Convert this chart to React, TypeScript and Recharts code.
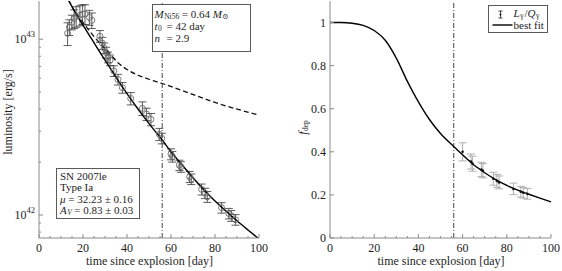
import React from "react";
import { ComposedChart, Line, Scatter, ErrorBar, XAxis, YAxis, ReferenceLine } from "recharts";

const FONT = '"Liberation Serif", "DejaVu Serif", serif';
const FRAME = "#8a8a8a";
const INK = "#1e1e1e";
const E42 = 1e42;

// observed bolometric light curve, units of 1e42 erg/s
const obsDay = [13.0, 13.8, 14.9, 16.0, 16.9, 18.6, 19.8, 20.9, 22.9, 24.0, 27.7, 28.8, 29.6, 30.5, 31.4, 32.3, 34.0, 35.9, 37.9, 41.7, 47.0, 48.9, 50.9, 54.7, 55.8, 60.0, 60.6, 63.8, 64.5, 68.5, 69.2, 73.9, 75.5, 76.5, 83.0, 86.3, 87.4, 89.3];
const obsLum = [10.8, 11.7, 12.5, 13.1, 13.5, 13.7, 13.9, 13.9, 13.3, 12.8, 10.4, 9.5, 8.9, 8.4, 7.9, 7.6, 6.6, 5.9, 5.3, 4.6, 4.04, 3.75, 3.5, 2.88, 2.73, 2.22, 2.15, 1.92, 1.88, 1.65, 1.6, 1.4, 1.33, 1.27, 1.1, 1.02, 0.99, 0.94];
const obsErr = [1.6, 1.2, 1.2, 1.6, 1.8, 1.8, 1.8, 1.8, 1.3, 1.3, 0.8, 0.75, 0.62, 0.6, 0.55, 0.53, 0.46, 0.41, 0.37, 0.37, 0.36, 0.3, 0.28, 0.23, 0.19, 0.16, 0.15, 0.13, 0.13, 0.12, 0.11, 0.1, 0.09, 0.09, 0.075, 0.07, 0.07, 0.065];

// best-fit luminosity and total decay power Q, units of 1e42 erg/s
const fitDay = [13.3, 16, 20, 24, 28, 32, 36, 40, 44, 48, 52, 56, 60, 65, 70, 75, 80, 85, 90, 95, 100];
const fitLum = [16.79, 14.55, 12.02, 10.0, 8.32, 6.97, 5.82, 4.9, 4.17, 3.57, 3.08, 2.67, 2.29, 1.93, 1.63, 1.387, 1.202, 1.052, 0.927, 0.822, 0.731];
const qDay = [13.3, 16, 20, 24, 28, 32, 36, 40, 45, 50, 56, 65, 80, 100];
const qLum = [16.79, 14.62, 12.45, 10.72, 9.38, 8.32, 7.33, 6.73, 6.24, 5.92, 5.6, 5.11, 4.37, 3.7];

// gamma-ray deposition fraction
const depDay = [60.0, 63.8, 64.5, 68.5, 69.2, 73.9, 75.5, 76.5, 83.0, 86.3, 87.4, 89.3];
const depVal = [0.4, 0.355, 0.345, 0.318, 0.312, 0.275, 0.265, 0.258, 0.228, 0.215, 0.21, 0.205];
const depErr = [0.042, 0.035, 0.035, 0.033, 0.033, 0.03, 0.03, 0.03, 0.027, 0.025, 0.025, 0.025];
const fDay = [0, 5, 10, 15, 20, 25, 30, 35, 40, 45, 50, 56, 60, 65, 70, 75, 80, 85, 90, 95, 100];
const fVal = [1.0, 1.0, 0.997, 0.987, 0.963, 0.918, 0.835, 0.727, 0.632, 0.55, 0.485, 0.425, 0.386, 0.34, 0.303, 0.271, 0.244, 0.222, 0.203, 0.185, 0.168];

const tSplit = 56;

const dayTicks = [0, 5, 10, 15, 20, 25, 30, 35, 40, 45, 50, 55, 60, 65, 70, 75, 80, 85, 90, 95, 100];
const dayLabels = [0, 20, 40, 60, 80, 100];
const lumTicks = [0.8, 0.9, 1, 2, 3, 4, 5, 6, 7, 8, 9, 10];
const lumLabels = [1, 10];
const fTicks = [0, 0.2, 0.4, 0.6, 0.8, 1];

const obsData = obsDay.map((x, i) => ({ x, y: obsLum[i] * E42, err: obsErr[i] * E42 }));
const fitData = fitDay.map((x, i) => ({ x, y: fitLum[i] * E42 }));
const qData = qDay.map((x, i) => ({ x, y: qLum[i] * E42 }));
const depData = depDay.map((x, i) => ({ x, y: depVal[i], err: depErr[i] }));
const fData = fDay.map((x, i) => ({ x, y: fVal[i] }));

// MATLAB-style inward ticks; axes use tickSize 0 so x/y sit on the axis line
function InTick(props: any) {
  const { x, y, payload, side, major, label } = props;
  const len = major ? 4 : 2;
  let line;
  let text = null;
  if (side === "bottom") {
    line = <line x1={x} x2={x} y1={y} y2={y - len} stroke={FRAME} />;
    if (label != null)
      text = (
        <text x={x} y={y + 14} textAnchor="middle" fontSize={12} fill={INK} fontFamily={FONT}>
          {label}
        </text>
      );
  } else if (side === "top") {
    line = <line x1={x} x2={x} y1={y} y2={y + len} stroke={FRAME} />;
  } else if (side === "left") {
    line = <line x1={x} x2={x + len} y1={y} y2={y} stroke={FRAME} />;
    if (label != null)
      text = (
        <text x={x - 4} y={y + 4} textAnchor="end" fontSize={12} fill={INK} fontFamily={FONT}>
          {label}
        </text>
      );
  } else {
    line = <line x1={x} x2={x - len} y1={y} y2={y} stroke={FRAME} />;
  }
  return (
    <g key={payload.value}>
      {line}
      {text}
    </g>
  );
}

const isDayMajor = (v: number) => dayLabels.includes(v);
const isLumMajor = (v: number) => lumLabels.some((m) => Math.abs(v - m * E42) < 1e30);

const logLabel = (v: number) => (
  <>
    <tspan>10</tspan>
    <tspan dy={-6} fontSize={8.5}>
      {Math.round(Math.log10(v))}
    </tspan>
  </>
);

const W = 281;
const H = 271;

function LightCurve() {
  return (
    <ComposedChart width={W} height={H} margin={{ top: 1, right: 22, bottom: 0, left: 0 }}>
      <XAxis
        xAxisId="b"
        dataKey="x"
        type="number"
        domain={[0, 100]}
        ticks={dayTicks}
        interval={0}
        height={33}
        tickSize={0}
        tickMargin={0}
        stroke={FRAME}
        tick={(p: any) => <InTick {...p} side="bottom" major={isDayMajor(p.payload.value)} label={isDayMajor(p.payload.value) ? p.payload.value : null} />}
      />
      <XAxis xAxisId="t" orientation="top" dataKey="x" type="number" domain={[0, 100]} ticks={dayTicks} interval={0} height={0} tickSize={0} tickMargin={0} stroke={FRAME}
        tick={(p: any) => <InTick {...p} side="top" major={isDayMajor(p.payload.value)} />}
      />
      <YAxis
        yAxisId="l"
        type="number"
        scale="log"
        domain={[7.4e41, 1.65e43]}
        allowDataOverflow
        ticks={lumTicks.map((v) => v * E42)}
        interval={0}
        width={39}
        tickSize={0}
        tickMargin={0}
        stroke={FRAME}
        tick={(p: any) => <InTick {...p} side="left" major={isLumMajor(p.payload.value)} label={isLumMajor(p.payload.value) ? logLabel(p.payload.value) : null} />}
      />
      <YAxis yAxisId="r" orientation="right" type="number" scale="log" domain={[7.4e41, 1.65e43]} allowDataOverflow ticks={lumTicks.map((v) => v * E42)} interval={0} width={0} tickSize={0} tickMargin={0} stroke={FRAME}
        tick={(p: any) => <InTick {...p} side="right" major={isLumMajor(p.payload.value)} />}
      />
      <ReferenceLine xAxisId="b" yAxisId="l" x={tSplit} stroke="#444" strokeWidth={1} strokeDasharray="5 2 1 2" />
      <Line xAxisId="b" yAxisId="l" data={qData} dataKey="y" type="monotone" stroke="#111" strokeWidth={1.3} strokeDasharray="5 3" dot={false} isAnimationActive={false} />
      <Scatter
        xAxisId="b"
        yAxisId="l"
        data={obsData}
        dataKey="y"
        isAnimationActive={false}
        shape={(p: any) => <circle cx={p.cx} cy={p.cy} r={3} fill="none" stroke="#6a6a6a" strokeWidth={0.9} />}
      >
        <ErrorBar dataKey="err" direction="y" width={4} stroke="#333" strokeWidth={0.8} isAnimationActive={false} />
      </Scatter>
      <Line xAxisId="b" yAxisId="l" data={fitData} dataKey="y" type="monotone" stroke="#000" strokeWidth={1.4} dot={false} isAnimationActive={false} />
    </ComposedChart>
  );
}

function Deposition() {
  return (
    <ComposedChart width={W} height={H} margin={{ top: 1, right: 11, bottom: 0, left: 0 }}>
      <XAxis
        xAxisId="b"
        dataKey="x"
        type="number"
        domain={[0, 100]}
        ticks={dayTicks}
        interval={0}
        height={33}
        tickSize={0}
        tickMargin={0}
        stroke={FRAME}
        tick={(p: any) => <InTick {...p} side="bottom" major={isDayMajor(p.payload.value)} label={isDayMajor(p.payload.value) ? p.payload.value : null} />}
      />
      <XAxis xAxisId="t" orientation="top" dataKey="x" type="number" domain={[0, 100]} ticks={dayTicks} interval={0} height={0} tickSize={0} tickMargin={0} stroke={FRAME}
        tick={(p: any) => <InTick {...p} side="top" major={isDayMajor(p.payload.value)} />}
      />
      <YAxis
        yAxisId="l"
        type="number"
        domain={[0, 1.1]}
        ticks={fTicks}
        interval={0}
        width={49}
        tickSize={0}
        tickMargin={0}
        stroke={FRAME}
        tick={(p: any) => <InTick {...p} side="left" major label={String(p.payload.value)} />}
      />
      <YAxis yAxisId="r" orientation="right" type="number" domain={[0, 1.1]} ticks={fTicks} interval={0} width={0} tickSize={0} tickMargin={0} stroke={FRAME}
        tick={(p: any) => <InTick {...p} side="right" major />}
      />
      <ReferenceLine xAxisId="b" yAxisId="l" x={tSplit} stroke="#444" strokeWidth={1} strokeDasharray="5 2 1 2" />
      <Scatter
        xAxisId="b"
        yAxisId="l"
        data={depData}
        dataKey="y"
        isAnimationActive={false}
        shape={(p: any) => <circle cx={p.cx} cy={p.cy} r={1.3} fill="#111" />}
      >
        <ErrorBar dataKey="err" direction="y" width={4} stroke="#a8a8a8" strokeWidth={0.9} isAnimationActive={false} />
      </Scatter>
      <Line xAxisId="b" yAxisId="l" data={fData} dataKey="y" type="monotone" stroke="#000" strokeWidth={1.4} dot={false} isAnimationActive={false} />
    </ComposedChart>
  );
}

const sub: React.CSSProperties = { fontSize: 7.5, verticalAlign: "-1px", lineHeight: 0, marginLeft: 0.5, marginRight: 1 };
const box: React.CSSProperties = {
  position: "absolute",
  boxSizing: "border-box",
  border: "1px solid #5a5a5a",
  background: "#fff",
  fontFamily: FONT,
  fontSize: 11,
  lineHeight: "11.6px",
  color: INK,
  whiteSpace: "nowrap",
};

function vLabel(x: number, y: number, content: React.ReactNode): React.ReactNode {
  return (
    <div
      style={{
        position: "absolute",
        left: x,
        top: y,
        transform: "translate(-50%, -50%) rotate(-90deg)",
        fontFamily: FONT,
        fontSize: 12,
        color: INK,
        whiteSpace: "nowrap",
        lineHeight: "14px",
      }}
    >
      {content}
    </div>
  );
}

function xLabel(cx: number) {
  return (
    <div style={{ position: "absolute", left: cx, top: 255, transform: "translateX(-50%)", fontFamily: FONT, fontSize: 12, lineHeight: "13px", color: INK, whiteSpace: "nowrap" }}>
      time since explosion [day]
    </div>
  );
}

export default function App() {
  return (
    <div style={{ position: "absolute", left: 0, top: 0, width: 562, height: 271, background: "#fff" }}>
      <div style={{ position: "absolute", left: 0, top: 0 }}>
        <LightCurve />
      </div>
      <div style={{ position: "absolute", left: 281, top: 0 }}>
        <Deposition />
      </div>

      {xLabel(149.5)}
      {xLabel(441)}
      {vLabel(7.5, 112, "luminosity [erg/s]")}
      {vLabel(303, 127, <span><i>f</i><span style={sub}>dep</span></span>)}

      <div style={{ ...box, left: 151.5, top: 4, width: 99.5, height: 48, padding: "3px 0 0 2px", lineHeight: "12px" }}>
        <div>
          <i>M</i>
          <span style={{ ...sub, marginRight: 2.5 }}>Ni56</span>= 0.64 <i>M</i>
          <span style={sub}>⊙</span>
        </div>
        <div>
          <span style={{ display: "inline-block", width: 12 }}>
            <i>t</i>
            <span style={sub}>0</span>
          </span>
          = 42 day
        </div>
        <div>
          <span style={{ display: "inline-block", width: 12 }}>
            <i>n</i>
          </span>
          = 2.9
        </div>
      </div>

      <div style={{ ...box, left: 56, top: 167.5, width: 83.5, height: 51, padding: "2px 0 0 3px" }}>
        <div>SN 2007le</div>
        <div>Type Ia</div>
        <div>
          <i>μ</i> = 32.23 ± 0.16
        </div>
        <div>
          <i>A</i>
          <span style={{ ...sub, marginRight: 2.5 }}>
            <i>V</i>
          </span>
          = 0.83 ± 0.03
        </div>
      </div>

      <div style={{ ...box, left: 487.5, top: 5, width: 60, height: 27.5 }}>
        <svg width={58} height={26} style={{ position: "absolute", left: 0, top: 0 }}>
          <line x1={11.5} x2={11.5} y1={5} y2={12} stroke="#333" strokeWidth={0.9} />
          <line x1={9.5} x2={13.5} y1={5} y2={5} stroke="#333" strokeWidth={0.9} />
          <line x1={9.5} x2={13.5} y1={12} y2={12} stroke="#333" strokeWidth={0.9} />
          <circle cx={11.5} cy={8.5} r={1} fill="#111" />
          <line x1={3.5} x2={23.5} y1={19} y2={19} stroke="#000" strokeWidth={1.4} />
        </svg>
        <div style={{ position: "absolute", left: 25, top: 1.5 }}>
          <i>L</i>
          <span style={sub}>γ</span>/<i>Q</i>
          <span style={sub}>γ</span>
        </div>
        <div style={{ position: "absolute", left: 25, top: 14 }}>best fit</div>
      </div>
    </div>
  );
}
